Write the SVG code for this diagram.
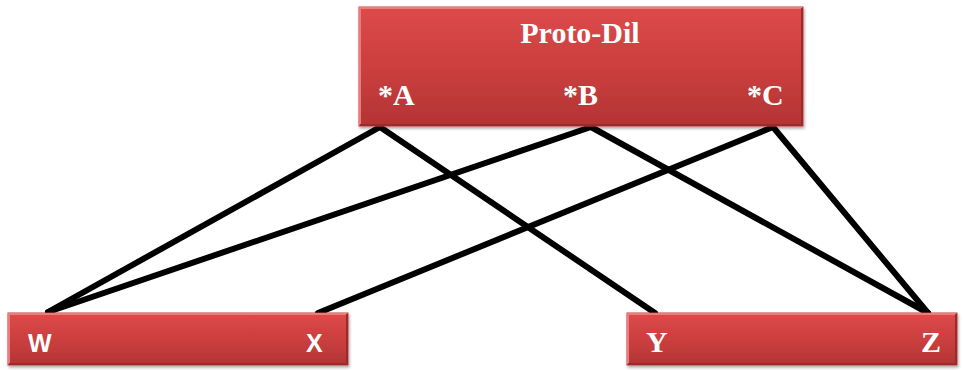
<svg xmlns="http://www.w3.org/2000/svg" width="963" height="370" viewBox="0 0 963 370">
<defs>
<linearGradient id="red" x1="0" y1="0" x2="0" y2="1">
<stop offset="0" stop-color="#dd4a4a"/>
<stop offset="0.5" stop-color="#cc3f3f"/>
<stop offset="1" stop-color="#b33434"/>
</linearGradient>
<filter id="sh" x="-5%" y="-10%" width="110%" height="130%">
<feGaussianBlur in="SourceAlpha" stdDeviation="1.5"/>
<feOffset dx="1" dy="2" result="b"/>
<feComponentTransfer><feFuncA type="linear" slope="0.35"/></feComponentTransfer>
<feMerge><feMergeNode/><feMergeNode in="SourceGraphic"/></feMerge>
</filter>
</defs>
<style>
.box{fill:url(#red);stroke:#c04040;stroke-width:1;filter:url(#sh)}
.hl{fill:none;stroke:#ee7a7a;stroke-width:2}
.dk{fill:none;stroke:#9c2a2a;stroke-width:2}
.serif{font-family:"Liberation Serif","Times New Roman",serif;font-weight:bold;fill:#ffffff}
.sans{font-family:"Liberation Sans",Arial,sans-serif;font-weight:bold;fill:#ffffff}
.conn line{stroke:#000;stroke-width:6;stroke-linecap:round}
</style>
<g id="connectors" class="conn">
<line x1="380" y1="127" x2="48" y2="312"/>
<line x1="380" y1="127" x2="655" y2="313"/>
<line x1="591" y1="127" x2="48" y2="312"/>
<line x1="591" y1="127" x2="928" y2="313"/>
<line x1="773" y1="127" x2="318" y2="313"/>
<line x1="773" y1="127" x2="928" y2="313"/>
</g>
<g id="proto-dil">
<rect class="box" x="359" y="7" width="444" height="119"/>
<polyline class="hl" points="360,125 360,8 802,8"/>
<polyline class="dk" points="360,125 802,125 802,8"/>
<text class="serif" x="580" y="43" font-size="30" text-anchor="middle">Proto-Dil</text>
<text class="serif" x="378" y="105" font-size="30">*A</text>
<text class="serif" x="563" y="105" font-size="30">*B</text>
<text class="serif" x="747" y="105" font-size="30">*C</text>
</g>
<g id="wx">
<rect class="box" x="8" y="313" width="340" height="52"/>
<polyline class="hl" points="9,364 9,314 347,314"/>
<polyline class="dk" points="9,364 347,364 347,314"/>
<text class="sans" x="28" y="352" font-size="25">W</text>
<text class="sans" x="306" y="352" font-size="25">X</text>
</g>
<g id="yz">
<rect class="box" x="627" y="313" width="330" height="52"/>
<polyline class="hl" points="628,364 628,314 956,314"/>
<polyline class="dk" points="628,364 956,364 956,314"/>
<text class="serif" x="646" y="352" font-size="30">Y</text>
<text class="serif" x="921" y="352" font-size="30">Z</text>
</g>
</svg>
